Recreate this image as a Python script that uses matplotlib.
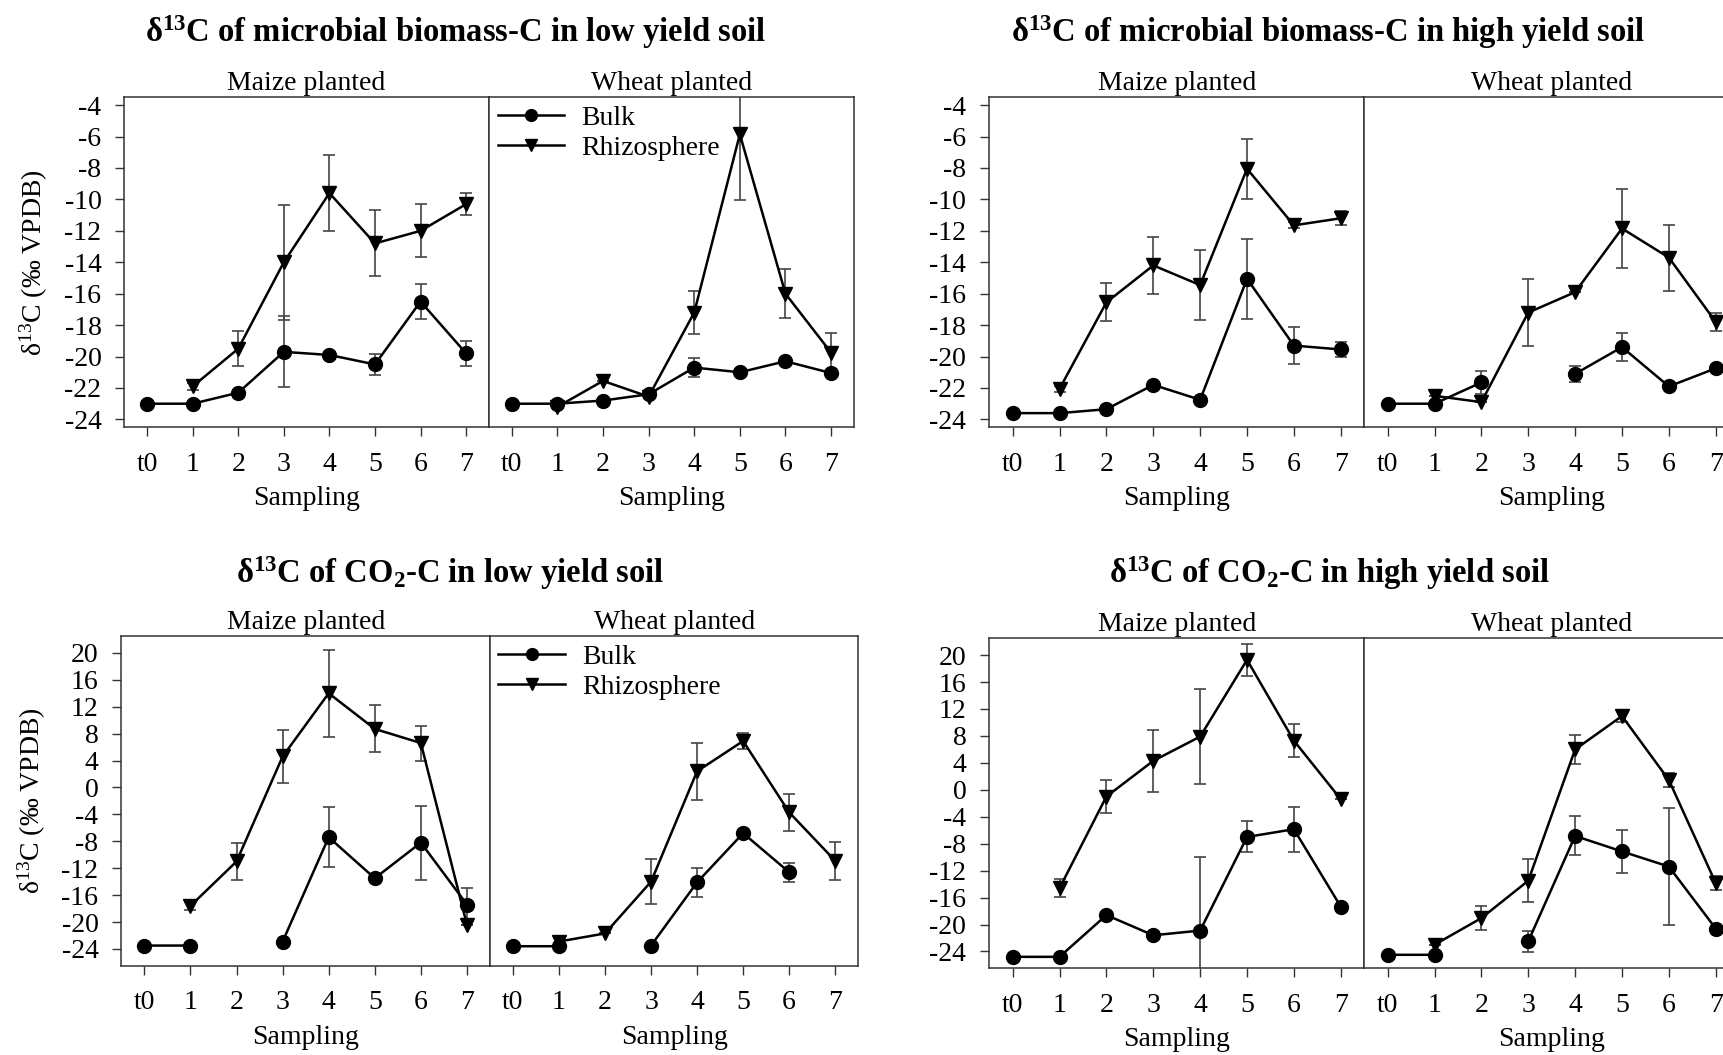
import matplotlib.pyplot as plt
import numpy as np

plt.rcParams['font.family'] = ['Liberation Serif', 'DejaVu Serif']
plt.rcParams['mathtext.fontset'] = 'custom'
plt.rcParams['mathtext.rm'] = 'Liberation Serif'
plt.rcParams['mathtext.it'] = 'Liberation Serif:italic'
plt.rcParams['mathtext.bf'] = 'Liberation Serif:bold'

nan = np.nan
samplings = ['t0', '1', '2', '3', '4', '5', '6', '7']

# microbial biomass-C, low yield soil
mb_low_maize_bulk = [-23.0, -23.0, -22.3, -19.7, -19.9, -20.5, -16.5, -19.8]
mb_low_maize_bulk_err = [0, 0, 0, 2.25, 0, 0.65, 1.1, 0.78]
mb_low_maize_rhizo = [nan, -21.9, -19.5, -14.0, -9.6, -12.8, -12.0, -10.3]
mb_low_maize_rhizo_err = [0, 0.2, 1.12, 3.65, 2.42, 2.1, 1.68, 0.72]
mb_low_wheat_bulk = [-23.0, -23.0, -22.8, -22.4, -20.7, -21.0, -20.3, -21.05]
mb_low_wheat_bulk_err = [0, 0, 0, 0, 0.6, 0, 0, 0]
mb_low_wheat_rhizo = [nan, -23.2, -21.55, -22.55, -17.2, -5.85, -16.0, -19.75]
mb_low_wheat_rhizo_err = [0, 0, 0, 0, 1.38, 4.2, 1.56, 1.23]

# microbial biomass-C, high yield soil
mb_high_maize_bulk = [-23.6, -23.6, -23.35, -21.8, -22.75, -15.05, -19.3, -19.55]
mb_high_maize_bulk_err = [0, 0, 0, 0, 0, 2.55, 1.2, 0.45]
mb_high_maize_rhizo = [nan, -22.05, -16.55, -14.2, -15.45, -8.05, -11.65, -11.2]
mb_high_maize_rhizo_err = [0, 0.2, 1.2, 1.83, 2.2, 1.92, 0.2, 0.45]
mb_high_wheat_bulk = [-23.0, -23.0, -21.65, nan, -21.1, -19.4, -21.9, -20.75]
mb_high_wheat_bulk_err = [0, 0, 0.74, 0, 0.52, 0.91, 0, 0]
mb_high_wheat_rhizo = [nan, -22.5, -22.9, -17.2, -15.9, -11.85, -13.7, -17.8]
mb_high_wheat_rhizo_err = [0, 0, 0, 2.11, 0, 2.51, 2.1, 0.6]

# CO2-C, low yield soil
co2_low_maize_bulk = [-23.5, -23.5, nan, -22.9, -7.4, -13.5, -8.2, -17.4]
co2_low_maize_bulk_err = [0, 0, 0, 0, 4.46, 0, 5.5, 2.5]
co2_low_maize_rhizo = [nan, -17.6, -11.0, 4.6, 14.0, 8.7, 6.6, -20.4]
co2_low_maize_rhizo_err = [0, 0.6, 2.7, 3.97, 6.5, 3.5, 2.6, 0]
co2_low_wheat_bulk = [-23.6, -23.6, nan, -23.5, -14.1, -6.8, -12.6, nan]
co2_low_wheat_bulk_err = [0, 0, 0, 0, 2.2, 0, 1.44, 0]
co2_low_wheat_rhizo = [nan, -22.9, -21.7, -14.0, 2.4, 6.9, -3.7, -10.9]
co2_low_wheat_rhizo_err = [0, 0.8, 0, 3.35, 4.2, 1.2, 2.7, 2.8]

# CO2-C, high yield soil
co2_high_maize_bulk = [-24.8, -24.8, -18.6, -21.6, -20.9, -7.0, -5.85, -17.35]
co2_high_maize_bulk_err = [0, 0, 0, 0, 10.9, 2.3, 3.35, 0]
co2_high_maize_rhizo = [nan, -14.6, -1.0, 4.3, 7.9, 19.3, 7.3, -1.4]
co2_high_maize_rhizo_err = [0, 1.3, 2.5, 4.6, 7.0, 2.4, 2.5, 0]
co2_high_wheat_bulk = [-24.5, -24.5, nan, -22.5, -6.85, -9.15, -11.4, -20.6]
co2_high_wheat_bulk_err = [0, 0, 0, 1.55, 2.9, 3.2, 8.65, 0]
co2_high_wheat_rhizo = [nan, -23.0, -19.05, -13.5, 6.0, 10.95, 1.45, -13.85]
co2_high_wheat_rhizo_err = [0, 0, 1.8, 3.2, 2.1, 0.9, 1.0, 1.0]

x = np.arange(len(samplings))
fig = plt.figure(figsize=(17.24, 10.55), dpi=100)

FS = 20
ylab = r'δ$^{13}$C ($\mathit{‰}$ VPDB)'


def panel(rect, bulk, bulk_err, rhizo, rhizo_err, ylim, yticks, label,
          show_y=False, legend=False):
    ax = fig.add_axes(rect)
    for y, e, m in ((bulk, bulk_err, 'o'), (rhizo, rhizo_err, 'v')):
        ax.errorbar(x, y, yerr=e, fmt='none', ecolor='#444444',
                    elinewidth=1.2, capsize=4, capthick=1.2, zorder=2)
        ax.plot(x, y, color='black', lw=1.8, marker=m, ms=10,
                mec='black', mfc='black', zorder=3)
    ax.set_xlim(-0.5, 7.5)
    ax.set_ylim(*ylim)
    ax.set_xticks(x)
    ax.set_xticklabels(samplings)
    ax.set_yticks(yticks)
    ax.set_yticklabels([str(t) for t in yticks])
    ax.tick_params(direction='out', length=6.5, width=1, color='#333333',
                   labelsize=FS, pad=10)
    ax.tick_params(axis='x', pad=11)
    if not show_y:
        ax.tick_params(axis='y', left=False, labelleft=False)
    for s in ax.spines.values():
        s.set_color('#333333')
        s.set_linewidth(1.1)
    ax.set_xlabel('Sampling', fontsize=FS, labelpad=7)
    ax.text(0.5, 1.004, label, transform=ax.transAxes, ha='center',
            va='bottom', fontsize=FS)
    if show_y:
        ax.set_ylabel(ylab, fontsize=FS, labelpad=10)
    if legend:
        ax.legend(['Bulk', 'Rhizosphere'], loc='upper left',
                  bbox_to_anchor=(-0.045, 1.05), frameon=False, fontsize=FS,
                  handlelength=2.4, handletextpad=0.6, labelspacing=0.15,
                  markerscale=0.85)
    return ax


mb_ticks = list(range(-4, -25, -2))
co2_ticks = list(range(20, -25, -4))
mb_lim = (-24.5, -3.5)
co2_lim = (-26.5, 22.5)

top_y, top_h = 0.595, 0.3128
bot_y, bot_h = 0.0846, 0.3125

panel([0.0721, top_y, 0.2115, top_h], mb_low_maize_bulk, mb_low_maize_bulk_err,
      mb_low_maize_rhizo, mb_low_maize_rhizo_err, mb_lim, mb_ticks,
      'Maize planted', show_y=True)
panel([0.2836, top_y, 0.2117, top_h], mb_low_wheat_bulk, mb_low_wheat_bulk_err,
      mb_low_wheat_rhizo, mb_low_wheat_rhizo_err, mb_lim, mb_ticks,
      'Wheat planted', legend=True)
panel([0.5738, top_y, 0.2175, top_h], mb_high_maize_bulk, mb_high_maize_bulk_err,
      mb_high_maize_rhizo, mb_high_maize_rhizo_err, mb_lim, mb_ticks,
      'Maize planted', show_y=True)
panel([0.7913, top_y, 0.2175, top_h], mb_high_wheat_bulk, mb_high_wheat_bulk_err,
      mb_high_wheat_rhizo, mb_high_wheat_rhizo_err, mb_lim, mb_ticks,
      'Wheat planted')

panel([0.0704, bot_y, 0.2138, bot_h], co2_low_maize_bulk, co2_low_maize_bulk_err,
      co2_low_maize_rhizo, co2_low_maize_rhizo_err, co2_lim, co2_ticks,
      'Maize planted', show_y=True)
panel([0.2842, bot_y, 0.2136, bot_h], co2_low_wheat_bulk, co2_low_wheat_bulk_err,
      co2_low_wheat_rhizo, co2_low_wheat_rhizo_err, co2_lim, co2_ticks,
      'Wheat planted', legend=True)
panel([0.5738, 0.0822, 0.2175, 0.3128], co2_high_maize_bulk, co2_high_maize_bulk_err,
      co2_high_maize_rhizo, co2_high_maize_rhizo_err, co2_lim, co2_ticks,
      'Maize planted', show_y=True)
panel([0.7913, 0.0822, 0.2175, 0.3128], co2_high_wheat_bulk, co2_high_wheat_bulk_err,
      co2_high_wheat_rhizo, co2_high_wheat_rhizo_err, co2_lim, co2_ticks,
      'Wheat planted')

# y label only on the low-yield column
for a in fig.axes:
    if a.get_position().x0 > 0.5:
        a.set_ylabel('')

TS = 23.5
fig.text(456 / 1724, 1 - 32 / 1055,
         r'δ$^{\mathbf{13}}$C of microbial biomass-C in low yield soil',
         ha='center', va='center', fontsize=TS, fontweight='bold')
fig.text(1328 / 1724, 1 - 32 / 1055,
         r'δ$^{\mathbf{13}}$C of microbial biomass-C in high yield soil',
         ha='center', va='center', fontsize=TS, fontweight='bold')
fig.text(450 / 1724, 1 - 573 / 1055,
         r'δ$^{\mathbf{13}}$C of CO$_{\mathbf{2}}$-C in low yield soil',
         ha='center', va='center', fontsize=TS, fontweight='bold')
fig.text(1329 / 1724, 1 - 573 / 1055,
         r'δ$^{\mathbf{13}}$C of CO$_{\mathbf{2}}$-C in high yield soil',
         ha='center', va='center', fontsize=TS, fontweight='bold')

fig.savefig('out.png', dpi=100)
